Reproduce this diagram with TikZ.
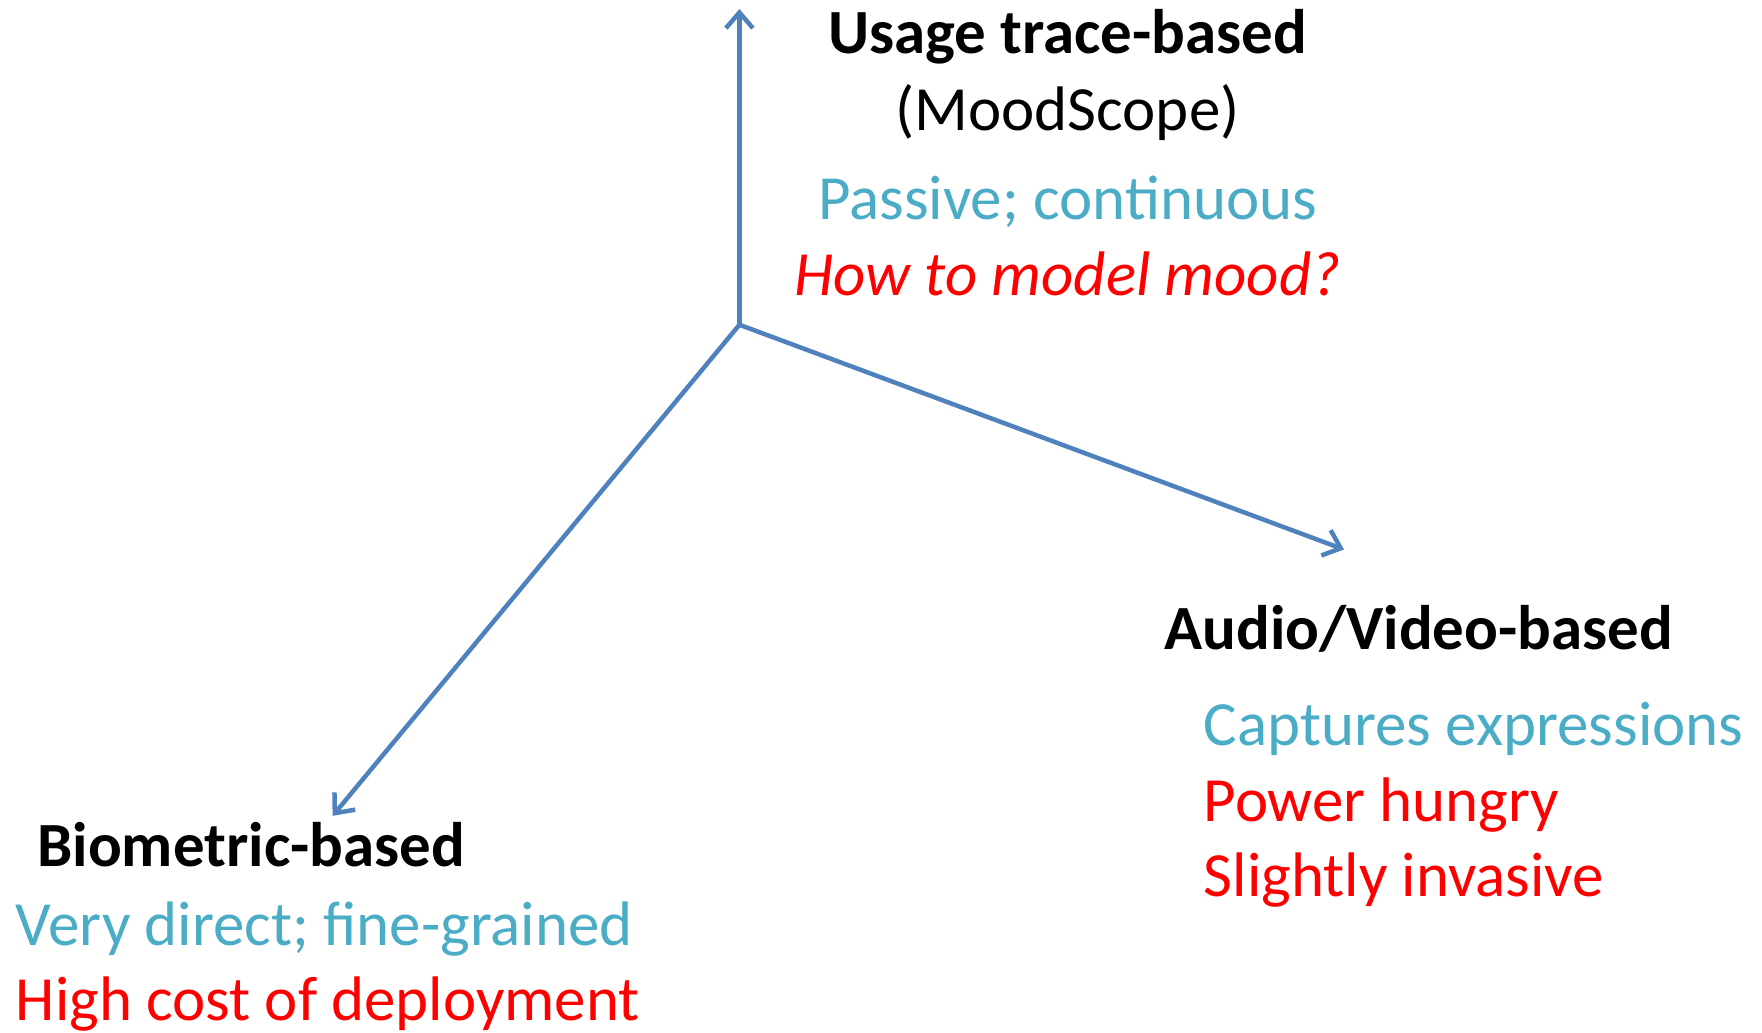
\documentclass[tikz,border=0pt]{standalone}
\usepackage{fontspec}
\setmainfont{Carlito}
\usepackage{tikz}
\usetikzlibrary{calc,arrows.meta}

\definecolor{axisblue}{HTML}{4F81BD}
\definecolor{procyan}{HTML}{4BACC6}
\definecolor{conred}{HTML}{FF0000}

\tikzset{
    axis/.style={draw=axisblue, line width=4pt, -{Straight Barb[length=14pt,width=24pt]}},
    txt/.style={inner sep=0pt, font=\fontsize{56}{68}\selectfont},
    head/.style={txt, font=\fontsize{56}{68}\selectfont\bfseries},
    pro/.style={txt, text=procyan},
    con/.style={txt, text=conred}
}

\begin{document}
\begin{tikzpicture}[x=1pt, y=1pt]
    \useasboundingbox (-658, 289) rectangle (910, -630);

    \coordinate (o) at (0,0);
    \coordinate (up) at ($(o) + (0, 281)$);
    \coordinate (right) at ($(o) + (538, -200)$);
    \coordinate (left) at ($(o) + (-362, -437)$);

    \draw[axis] (o) -- (up);
    \draw[axis] (o) -- (right);
    \draw[axis] (o) -- (left);

    \node[head, anchor=base] (usage) at (292, 241) {Usage trace-based};
    \node[txt, anchor=base] (moodscope) at (292, 173) {(MoodScope)};
    \node[pro, anchor=base] (passive) at (292, 94) {Passive; continuous};
    \node[con, anchor=base] (model) at (292, 26) {\itshape How to model mood?};

    \node[head, anchor=base west] (audio) at (378, -289) {Audio/Video-based};
    \node[pro, anchor=base west] (captures) at (413, -374) {Captures expressions};
    \node[con, anchor=base west] (power) at (413, -442) {Power hungry};
    \node[con, anchor=base west] (invasive) at (413, -509) {Slightly invasive};

    \node[head, anchor=base west] (biometric) at (-625, -482) {Biometric-based};
    \node[pro, anchor=base west] (direct) at (-644, -552) {Very direct; fine-grained};
    \node[con, anchor=base west] (cost) at (-644, -619) {High cost of deployment};

\end{tikzpicture}
\end{document}
